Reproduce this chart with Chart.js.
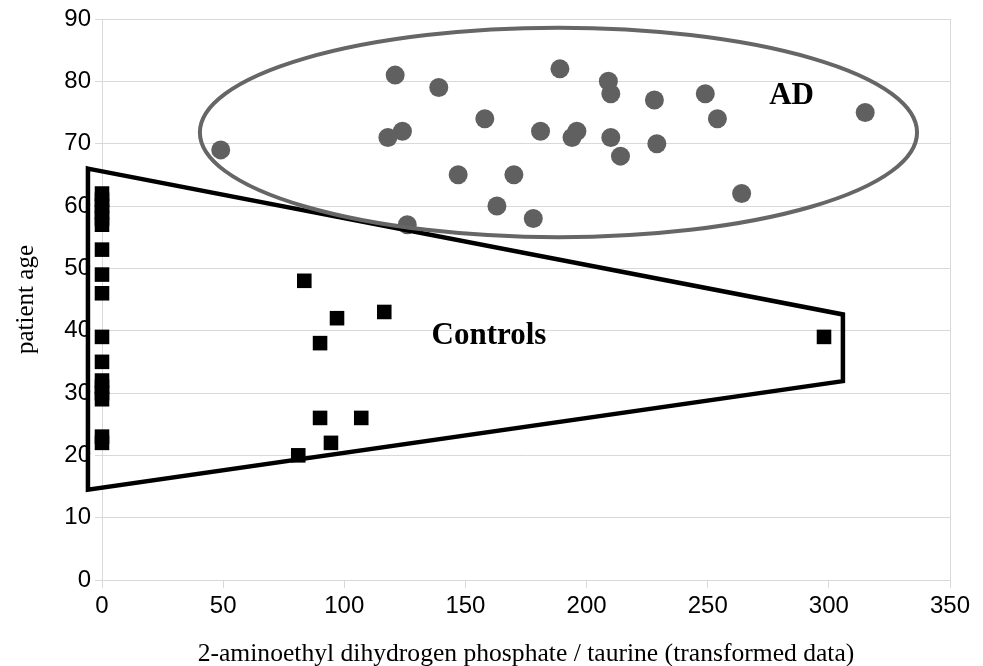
<!DOCTYPE html>
<html>
<head>
<meta charset="utf-8">
<script src="https://cdn.jsdelivr.net/npm/chart.js@4.4.0/dist/chart.umd.min.js"></script>
<style>
  body { margin: 0; background: #fff; }
  #wrap { width: 983px; height: 666px; }
</style>
</head>
<body>
<div id="wrap"><canvas id="myChart" width="983" height="666"></canvas></div>
<script>
// AD group (grey circles)
const adX = [49, 121, 139, 118, 124, 147, 126, 158, 189, 209, 210, 228, 249, 254, 181, 196, 194, 210, 214, 229, 170, 163, 178, 264, 315];
const adY = [69, 81, 79, 71, 72, 65, 57, 74, 82, 80, 78, 77, 78, 74, 72, 72, 71, 71, 68, 70, 65, 60, 58, 62, 75];

// Controls (black squares)
const ctrlX = [0, 0, 0, 0, 0, 0, 0, 0, 0, 0, 0, 0, 0, 0, 0, 0, 0, 83.5, 97, 116.5, 90, 90, 107, 94.5, 81, 298];
const ctrlY = [62, 61, 60, 59, 58, 57, 53, 49, 46, 39, 35, 32, 31, 30, 29, 23, 22, 48, 42, 43, 38, 26, 26, 22, 20, 39];

// axes
const xTicks = [0, 50, 100, 150, 200, 250, 300, 350];
const yTicks = [0, 10, 20, 30, 40, 50, 60, 70, 80, 90];

// drawn shapes, in data units
const adEllipse = { cx: 188.4, cy: 71.8, rx: 148, ry: 16.8 };
const ctrlShape = [[-5.8, 66], [305.8, 42.6], [305.8, 31.9], [-5.8, 14.5]];
const groupLabels = [
    { text: 'AD', x: 284.6, y: 77.6 },
    { text: 'Controls', x: 159.7, y: 39.2 }
];

function toPoints(xs, ys) {
    return xs.map((x, i) => ({ x: x, y: ys[i] }));
}

const gridGrey = '#d9d9d9';
const sansFont = '"Liberation Sans", Arial, sans-serif';
const serifFont = '"Liberation Serif", "DejaVu Serif", serif';

// ellipse, trapeze and the two labels
const shapesPlugin = {
    id: 'shapes',
    afterDatasetsDraw(chart) {
        const ctx = chart.ctx;
        const xs = chart.scales.x;
        const ys = chart.scales.y;
        ctx.save();

        // trapeze round the controls
        ctx.beginPath();
        ctrlShape.forEach((p, i) => {
            const px = xs.getPixelForValue(p[0]);
            const py = ys.getPixelForValue(p[1]);
            if (i === 0) ctx.moveTo(px, py); else ctx.lineTo(px, py);
        });
        ctx.closePath();
        ctx.lineWidth = 4.5;
        ctx.strokeStyle = '#000';
        ctx.stroke();

        // ellipse round AD
        const cx = xs.getPixelForValue(adEllipse.cx);
        const cy = ys.getPixelForValue(adEllipse.cy);
        const rx = xs.getPixelForValue(adEllipse.cx + adEllipse.rx) - cx;
        const ry = cy - ys.getPixelForValue(adEllipse.cy + adEllipse.ry);
        ctx.beginPath();
        ctx.ellipse(cx, cy, rx, ry, 0, 0, Math.PI * 2);
        ctx.lineWidth = 4;
        ctx.strokeStyle = '#666666';
        ctx.stroke();

        // labels
        ctx.fillStyle = '#000';
        ctx.font = 'bold 31px ' + serifFont;
        ctx.textAlign = 'center';
        ctx.textBaseline = 'middle';
        groupLabels.forEach(l => {
            ctx.fillText(l.text, xs.getPixelForValue(l.x), ys.getPixelForValue(l.y));
        });
        ctx.restore();
    }
};

const config = {
    type: 'scatter',
    data: {
        datasets: [
            {
                label: 'Controls',
                data: toPoints(ctrlX, ctrlY),
                pointStyle: 'rect',
                pointRadius: 10.3,
                pointHoverRadius: 10.3,
                backgroundColor: '#000',
                borderWidth: 0,
                clip: false
            },
            {
                label: 'AD',
                data: toPoints(adX, adY),
                pointStyle: 'circle',
                pointRadius: 9.5,
                pointHoverRadius: 9.5,
                backgroundColor: '#606060',
                borderWidth: 0,
                clip: false
            }
        ]
    },
    options: {
        responsive: false,
        animation: false,
        layout: {
            padding: { left: 0, right: 33, top: 19, bottom: 0 }
        },
        scales: {
            x: {
                type: 'linear',
                min: 0,
                max: 350,
                afterBuildTicks: s => { s.ticks = xTicks.map(v => ({ value: v })); },
                afterFit: s => { s.height = 86; },
                border: { color: gridGrey, width: 1 },
                grid: {
                    color: c => (c.tick && c.tick.value === 350) ? gridGrey : 'rgba(0,0,0,0)',
                    tickColor: gridGrey,
                    tickLength: 8
                },
                ticks: {
                    color: '#000',
                    padding: 4,
                    font: { family: sansFont, size: 24 }
                },
                title: {
                    display: true,
                    text: '2-aminoethyl dihydrogen phosphate / taurine (transformed data)',
                    color: '#000',
                    padding: 0,
                    font: { family: serifFont, size: 25.6, lineHeight: 0.9 }
                }
            },
            y: {
                type: 'linear',
                min: 0,
                max: 90,
                afterBuildTicks: s => { s.ticks = yTicks.map(v => ({ value: v })); },
                afterFit: s => { s.width = 102; },
                border: { color: gridGrey, width: 1 },
                grid: {
                    color: gridGrey,
                    tickColor: gridGrey,
                    tickLength: 7
                },
                ticks: {
                    color: '#000',
                    padding: 4,
                    font: { family: sansFont, size: 24 }
                },
                title: {
                    display: true,
                    text: 'patient age',
                    color: '#000',
                    padding: { top: 11, bottom: 0 },
                    font: { family: serifFont, size: 25, lineHeight: 1.2 }
                }
            }
        },
        plugins: {
            legend: { display: false },
            tooltip: { enabled: false }
        }
    },
    plugins: [shapesPlugin]
};

const myChart = new Chart(document.getElementById('myChart'), config);
</script>
</body>
</html>
